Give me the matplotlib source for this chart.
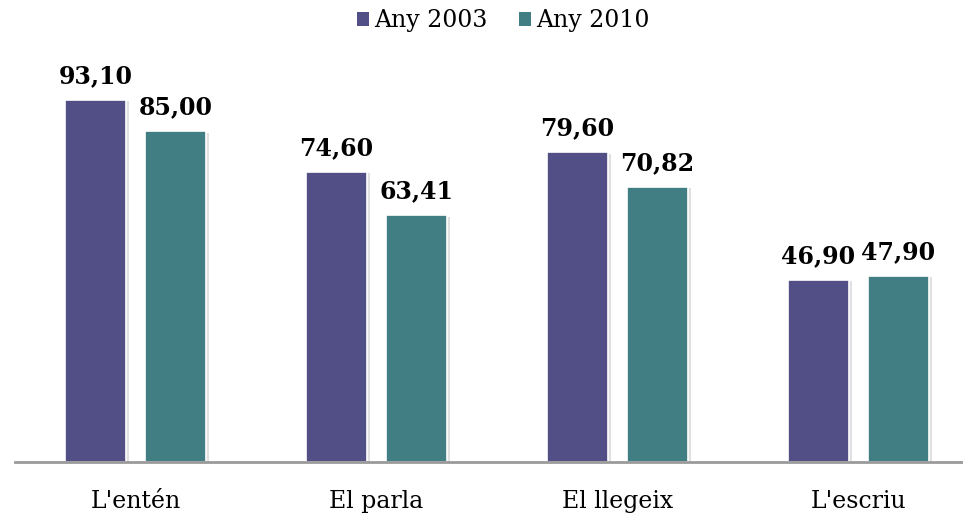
import matplotlib
matplotlib.use("Agg")
import matplotlib.pyplot as plt
import matplotlib.patheffects as pe
from matplotlib.patches import Patch
import numpy as np

# data
categories = ["L'entén", "El parla", "El llegeix", "L'escriu"]
any_2003 = [93.10, 74.60, 79.60, 46.90]
any_2010 = [85.00, 63.41, 70.82, 47.90]
series_names = ["Any 2003", "Any 2010"]

color_2003 = "#524F86"
color_2010 = "#417E84"

plt.rcParams['font.family'] = ['DejaVu Serif']

fig = plt.figure(figsize=(9.63, 5.16), dpi=100)
ax = fig.add_axes([15 / 963, 1 - 462 / 516, 964 / 963, 389 / 516])

x = np.arange(len(categories))
width = 0.257
offset = 0.166
shadow = [pe.SimplePatchShadow(offset=(2, -1), shadow_rgbFace='#999999', alpha=0.3), pe.Normal()]

bars1 = ax.bar(x - offset, any_2003, width, color=color_2003, edgecolor='white',
               linewidth=1.2, path_effects=shadow)
bars2 = ax.bar(x + offset, any_2010, width, color=color_2010, edgecolor='white',
               linewidth=1.2, path_effects=shadow)

for bars, vals in [(bars1, any_2003), (bars2, any_2010)]:
    for b, v in zip(bars, vals):
        ax.annotate(f"{v:.2f}".replace('.', ','), (b.get_x() + b.get_width() / 2, v),
                    xytext=(0, 8.5), textcoords='offset points', ha='center', va='bottom',
                    fontsize=17, fontweight='bold', color='black')

ax.set_xlim(-0.5, 3.5)
ax.set_ylim(0, 100)
ax.set_xticks(x)
ax.set_xticklabels(categories, fontsize=17)
ax.tick_params(axis='x', length=0, pad=20)
ax.set_yticks([])
for s in ['top', 'right', 'left']:
    ax.spines[s].set_visible(False)
ax.spines['bottom'].set_color('#9A9A9A')
ax.spines['bottom'].set_linewidth(2)

handles = [Patch(facecolor=color_2003, label=series_names[0]),
           Patch(facecolor=color_2010, label=series_names[1])]
fig.legend(handles=handles, loc='upper center', bbox_to_anchor=(0.5225, 1.023), ncol=2,
           frameon=False, fontsize=17, handlelength=0.5, handleheight=0.5,
           handletextpad=0.22, columnspacing=1.35)

fig.savefig("out.png", dpi=100)
